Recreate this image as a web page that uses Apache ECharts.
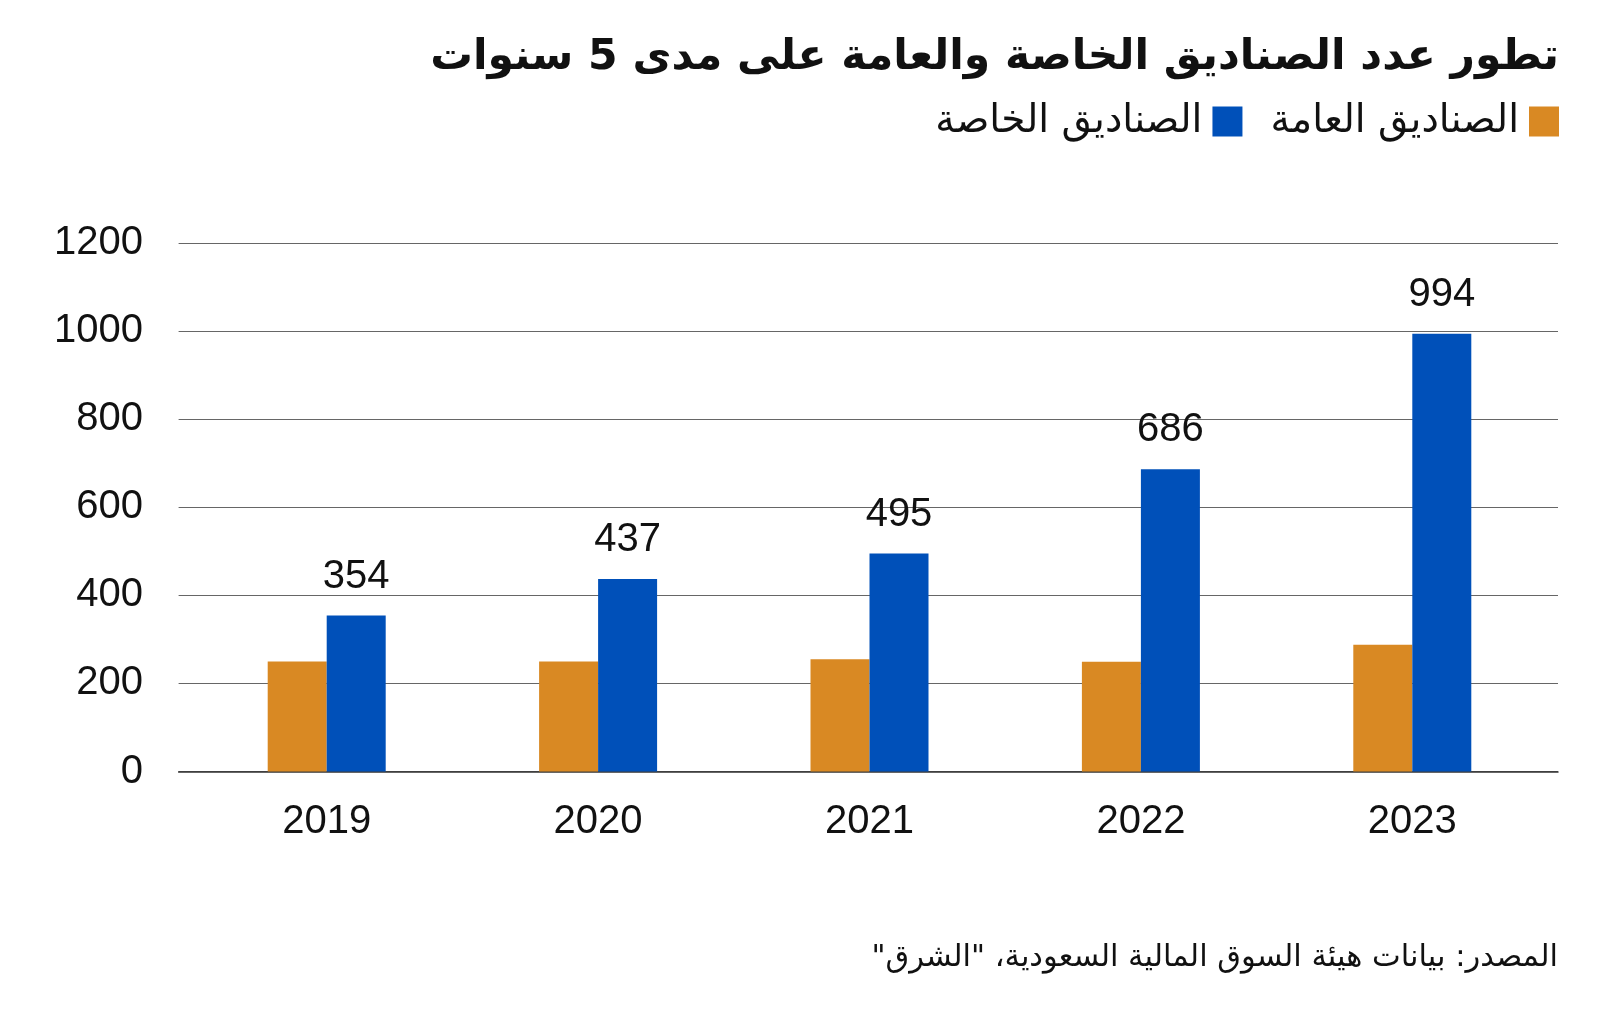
<!DOCTYPE html>
<html>
<head>
<meta charset="utf-8">
<script src="https://cdn.jsdelivr.net/npm/echarts@6/dist/echarts.min.js"></script>
<style>
html,body{margin:0;padding:0;background:#fff;}
#chart{width:1600px;height:1022px;}
</style>
</head>
<body>
<div id="chart" dir="rtl"></div>
<script>
const categories = ['2019', '2020', '2021', '2022', '2023'];
const publicFunds = [250, 250, 255, 249, 288];
const privateFunds = [354, 437, 495, 686, 994];
const yTicks = [0, 200, 400, 600, 800, 1000, 1200];
const titleText = 'تطور عدد الصناديق الخاصة والعامة على مدى 5 سنوات';
const publicName = 'الصناديق العامة';
const privateName = 'الصناديق الخاصة';
const sourceText = 'المصدر: بيانات هيئة السوق المالية السعودية، "الشرق"';

const chart = echarts.init(document.getElementById('chart'), null, {renderer: 'canvas'});
const latin = 'Liberation Sans, Arial, sans-serif';
const arabic = 'DejaVu Sans, Noto Sans, sans-serif';
const yMin = yTicks[0], yMax = yTicks[yTicks.length - 1], yStep = yTicks[1] - yTicks[0];
chart.setOption({
  backgroundColor: '#fff',
  animation: false,
  title: [{
    text: titleText,
    right: 36, top: 31,
    textStyle: {fontFamily: arabic, fontWeight: 'bold', fontSize: 42.5, color: '#111'}
  }, {
    text: sourceText,
    right: 37, top: 938,
    textStyle: {fontFamily: arabic, fontWeight: 'normal', fontSize: 30.5, color: '#111'}
  }],
  legend: {
    data: [privateName, publicName],
    right: 36, top: 97,
    align: 'right',
    icon: 'rect',
    itemWidth: 30, itemHeight: 30,
    itemGap: 28,
    textStyle: {fontFamily: arabic, fontSize: 39, color: '#111', padding: [0, 5, 0, 0]}
  },
  grid: [
    {left: 191, right: 52, top: 243, bottom: 1022 - 771.5, containLabel: false},
    {left: 178.6, right: 42, top: 243, bottom: 1022 - 771.5, containLabel: false}
  ],
  xAxis: [{
    type: 'category', gridIndex: 0,
    data: categories,
    axisTick: {show: false},
    axisLine: {show: false},
    axisLabel: {fontFamily: latin, fontSize: 40, color: '#111', margin: 30}
  }, {
    type: 'category', gridIndex: 1,
    data: categories,
    axisTick: {show: false},
    axisLabel: {show: false},
    axisLine: {lineStyle: {color: '#333', width: 1.5}}
  }],
  yAxis: [{
    type: 'value', gridIndex: 0,
    min: yMin, max: yMax, interval: yStep,
    axisLine: {show: false}, axisTick: {show: false},
    splitLine: {show: false},
    axisLabel: {fontFamily: latin, fontSize: 40, color: '#111', margin: 48, formatter: v => String(v)}
  }, {
    type: 'value', gridIndex: 1,
    min: yMin, max: yMax, interval: yStep,
    axisLine: {show: false}, axisTick: {show: false},
    axisLabel: {show: false},
    splitLine: {lineStyle: {color: '#666', width: 1.2}}
  }],
  series: [{
    name: publicName, type: 'bar', data: publicFunds,
    xAxisIndex: 0, yAxisIndex: 0,
    barWidth: 59, barGap: '0%', z: 3,
    itemStyle: {color: '#D98923'}
  }, {
    name: privateName, type: 'bar', data: privateFunds,
    xAxisIndex: 0, yAxisIndex: 0,
    barWidth: 59, barGap: '0%', z: 3,
    itemStyle: {color: '#0050B9'},
    label: {show: true, position: 'top', distance: 19, fontFamily: latin, fontSize: 40, color: '#111'}
  }]
});
</script>
</body>
</html>
